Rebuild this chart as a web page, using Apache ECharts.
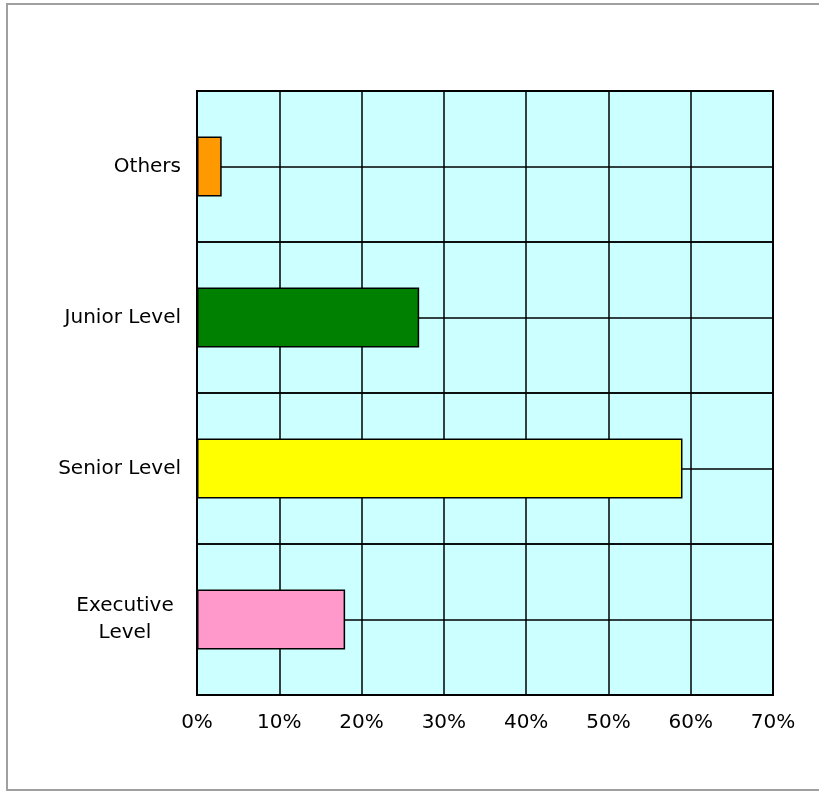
<!DOCTYPE html>
<html>
<head>
<meta charset="utf-8">
<script src="https://cdn.jsdelivr.net/npm/echarts@6/dist/echarts.min.js"></script>
<style>html,body{margin:0;padding:0;background:#fff}#c{width:819px;height:792px}</style>
</head>
<body>
<div id="c"></div>
<script>
const categories = ['Executive\nLevel', 'Senior Level', 'Junior Level', 'Others'];
const values = [18, 59, 27, 3];
const barColors = ['#FF99CC', '#FFFF00', '#008000', '#FF9900'];
const xTicks = [0, 10, 20, 30, 40, 50, 60, 70];

const chart = echarts.init(document.getElementById('c'));
const font = '"DejaVu Sans", sans-serif';
chart.setOption({
  animation: false,
  backgroundColor: '#fff',
  graphic: [{
    type: 'rect', shape: {x: 7, y: 4, width: 830, height: 786},
    style: {fill: 'none', stroke: '#a0a0a0', lineWidth: 2}, z: -10
  }],
  grid: {left: 197, right: 46, top: 91, bottom: 97, show: true,
         backgroundColor: '#CCFFFF', borderColor: '#000', borderWidth: 2},
  xAxis: {
    type: 'value', min: xTicks[0], max: xTicks[xTicks.length - 1], interval: 10,
    axisLine: {show: true, lineStyle: {color: '#000', width: 2}},
    axisTick: {show: false},
    splitLine: {show: true, lineStyle: {color: '#000', width: 1.5}},
    axisLabel: {formatter: v => v + '%', color: '#000', fontSize: 20, fontFamily: font, margin: 18}
  },
  yAxis: [{
    type: 'category', data: categories,
    axisLine: {show: true, lineStyle: {color: '#000', width: 2}},
    axisTick: {show: false},
    splitLine: {show: true, lineStyle: {color: '#000', width: 1.5}},
    axisLabel: {
      color: '#000', fontSize: 20, fontFamily: font, margin: 16, align: 'right',
      formatter: v => v.indexOf('\n') >= 0
        ? v.split('\n').map(s => '{m|' + s + '}').join('\n')
        : v,
      rich: {m: {width: 112, align: 'center', fontSize: 20, fontFamily: font, color: '#000', lineHeight: 27}}
    }
  }, {
    type: 'value', min: 0, max: 8, interval: 1, position: 'left',
    axisLine: {show: false}, axisTick: {show: false}, axisLabel: {show: false},
    splitLine: {show: true, lineStyle: {color: '#000', width: 1.5}}
  }],
  series: [{
    type: 'bar', yAxisIndex: 0,
    data: values.map((v, i) => ({value: v, itemStyle: {color: barColors[i]}})),
    barWidth: 60,
    itemStyle: {borderColor: '#000', borderWidth: 1.5},
    z: 5
  }]
});
</script>
</body>
</html>
